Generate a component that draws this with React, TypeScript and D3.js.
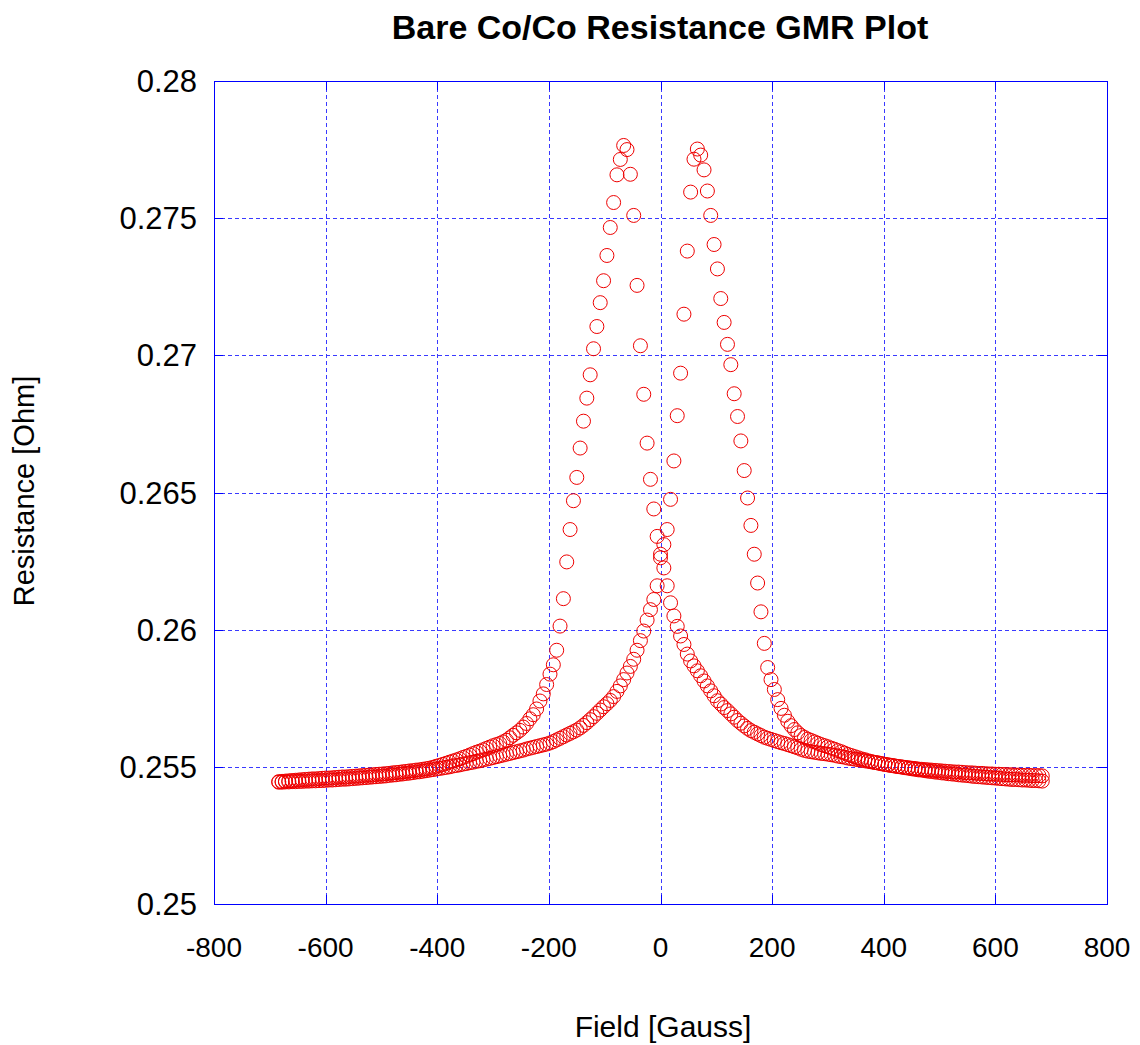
import React from 'react';
import * as d3 from 'd3';

// Applied field, ascending (Gauss)
const fieldGauss = [
  -684, -678, -672, -666, -660, -654, -648, -642, -636, -630, -624, -618,
  -612, -606, -600, -594, -588, -582, -576, -570, -564, -558, -552, -546,
  -540, -534, -528, -522, -516, -510, -504, -498, -492, -486, -480, -474,
  -468, -462, -456, -450, -444, -438, -432, -426, -420, -414, -408, -402,
  -396, -390, -384, -378, -372, -366, -360, -354, -348, -342, -336, -330,
  -324, -318, -312, -306, -300, -294, -288, -282, -276, -270, -264, -258,
  -252, -246, -240, -234, -228, -222, -216, -210, -204, -198, -192, -186,
  -180, -174, -168, -162, -156, -150, -144, -138, -132, -126, -120, -114,
  -108, -102, -96, -90, -84, -78, -72, -66, -60, -54, -48, -42,
  -36, -30, -24, -18, -12, -6,
  0,
  6, 12, 18, 24, 30, 36,
  42, 48, 54, 60, 66, 72, 78, 84, 90, 96, 102, 108,
  114, 120, 126, 132, 138, 144, 150, 156, 162, 168, 174, 180,
  186, 192, 198, 204, 210, 216, 222, 228, 234, 240, 246, 252,
  258, 264, 270, 276, 282, 288, 294, 300, 306, 312, 318, 324,
  330, 336, 342, 348, 354, 360, 366, 372, 378, 384, 390, 396,
  402, 408, 414, 420, 426, 432, 438, 444, 450, 456, 462, 468,
  474, 480, 486, 492, 498, 504, 510, 516, 522, 528, 534, 540,
  546, 552, 558, 564, 570, 576, 582, 588, 594, 600, 606, 612,
  618, 624, 630, 636, 642, 648, 654, 660, 666, 672, 678, 684,
];

// Resistance (Ohm) while sweeping the field from +684 G down to -684 G
const sweepDown = [
  0.25446, 0.25447, 0.25448, 0.25449, 0.2545, 0.25451, 0.25452, 0.25453, 0.25454, 0.25455, 0.25456, 0.25456,
  0.25457, 0.25458, 0.25459, 0.25459, 0.2546, 0.25461, 0.25462, 0.25463, 0.25463, 0.25464, 0.25465, 0.25466,
  0.25467, 0.25468, 0.25469, 0.2547, 0.25471, 0.25472, 0.25473, 0.25474, 0.25475, 0.25476, 0.25478, 0.25479,
  0.2548, 0.25482, 0.25483, 0.25485, 0.25486, 0.25488, 0.25489, 0.25491, 0.25493, 0.25495, 0.25498, 0.25502,
  0.25505, 0.25509, 0.25513, 0.25517, 0.25521, 0.25525, 0.25529, 0.25534, 0.25538, 0.25543, 0.25548, 0.25553,
  0.25557, 0.25562, 0.25567, 0.25572, 0.25577, 0.25581, 0.25585, 0.25591, 0.25597, 0.25606, 0.25615, 0.25624,
  0.25633, 0.25645, 0.25658, 0.25675, 0.2569, 0.25711, 0.2574, 0.25766, 0.258, 0.25838, 0.25872, 0.25925,
  0.26013, 0.26113, 0.26247, 0.26365, 0.2647, 0.26555, 0.26662, 0.2676, 0.26844, 0.26929, 0.27024, 0.27105,
  0.27192, 0.27272, 0.27364, 0.27466, 0.27557, 0.27658, 0.27714, 0.27765, 0.2775, 0.2766, 0.2751, 0.27255,
  0.27035, 0.26858, 0.2668, 0.26548, 0.2644, 0.2634,
  0.26275,
  0.26225, 0.2616, 0.26098, 0.2605, 0.26012, 0.25977,
  0.25946, 0.25911, 0.25886, 0.25868, 0.2585, 0.25832, 0.25813, 0.25795, 0.25777, 0.25759, 0.25741, 0.25729,
  0.25716, 0.25705, 0.25693, 0.25681, 0.25669, 0.25659, 0.25649, 0.2564, 0.25632, 0.25626, 0.2562, 0.25614,
  0.25608, 0.25604, 0.256, 0.25596, 0.25592, 0.25588, 0.25585, 0.25581, 0.25577, 0.25573, 0.25569, 0.25564,
  0.2556, 0.25557, 0.25555, 0.25553, 0.25551, 0.25549, 0.25548, 0.25546, 0.25544, 0.25542, 0.25539, 0.25537,
  0.25535, 0.25532, 0.2553, 0.25528, 0.25526, 0.25524, 0.25522, 0.2552, 0.25518, 0.25516, 0.25514, 0.25512,
  0.25509, 0.25507, 0.25505, 0.25503, 0.25501, 0.25499, 0.25497, 0.25495, 0.25493, 0.25491, 0.25489, 0.25488,
  0.25486, 0.25484, 0.25483, 0.25481, 0.2548, 0.25478, 0.25477, 0.25475, 0.25474, 0.25473, 0.25471, 0.2547,
  0.25469, 0.25468, 0.25466, 0.25465, 0.25464, 0.25463, 0.25462, 0.25461, 0.2546, 0.25459, 0.25458, 0.25457,
  0.25456, 0.25455, 0.25454, 0.25454, 0.25453, 0.25452, 0.25452, 0.25451, 0.2545, 0.2545, 0.25449, 0.25448,
];

// Resistance (Ohm) while sweeping the field from -684 G up to +684 G
const sweepUp = [
  0.25444, 0.25444, 0.25445, 0.25445, 0.25446, 0.25446, 0.25447, 0.25447, 0.25448, 0.25448, 0.25449, 0.25449,
  0.2545, 0.2545, 0.25451, 0.25452, 0.25452, 0.25453, 0.25454, 0.25455, 0.25455, 0.25456, 0.25457, 0.25458,
  0.25459, 0.2546, 0.25461, 0.25462, 0.25463, 0.25464, 0.25465, 0.25466, 0.25467, 0.25469, 0.2547, 0.25471,
  0.25473, 0.25474, 0.25476, 0.25477, 0.25479, 0.25481, 0.25482, 0.25484, 0.25486, 0.25488, 0.2549, 0.25492,
  0.25494, 0.25496, 0.25498, 0.255, 0.25503, 0.25505, 0.25507, 0.2551, 0.25512, 0.25515, 0.25517, 0.2552,
  0.25522, 0.25525, 0.25528, 0.25531, 0.25534, 0.25537, 0.2554, 0.25543, 0.25546, 0.25549, 0.25552, 0.25555,
  0.25558, 0.25561, 0.25565, 0.25568, 0.25571, 0.25574, 0.25577, 0.2558, 0.25583, 0.25587, 0.25592, 0.25598,
  0.25604, 0.2561, 0.25616, 0.25622, 0.25628, 0.25634, 0.25642, 0.25651, 0.25661, 0.25672, 0.25683, 0.25695,
  0.25707, 0.25719, 0.2573, 0.25742, 0.25756, 0.25775, 0.25795, 0.25818, 0.25842, 0.25866, 0.25892, 0.25925,
  0.2596, 0.25995, 0.26035, 0.26073, 0.2611, 0.2616,
  0.26262,
  0.2631, 0.26365, 0.26475, 0.26615, 0.2678, 0.26935,
  0.2715, 0.2738, 0.27595, 0.27715, 0.27752, 0.2773, 0.27676, 0.27599, 0.2751, 0.27404, 0.27315, 0.27207,
  0.2712, 0.2704, 0.26966, 0.2686, 0.26777, 0.26688, 0.2658, 0.2648, 0.2638, 0.26275, 0.2617, 0.26065,
  0.2595, 0.25862, 0.25818, 0.25782, 0.25745, 0.25713, 0.25688, 0.25666, 0.2565, 0.25636, 0.25624, 0.25614,
  0.25607, 0.25601, 0.25596, 0.25591, 0.25586, 0.25581, 0.25577, 0.25573, 0.25568, 0.25564, 0.25559, 0.25555,
  0.2555, 0.25545, 0.25541, 0.25537, 0.25533, 0.25529, 0.25526, 0.25522, 0.25519, 0.25516, 0.25514, 0.25511,
  0.25509, 0.25507, 0.25505, 0.25503, 0.25501, 0.255, 0.25498, 0.25497, 0.25495, 0.25494, 0.25492, 0.25491,
  0.2549, 0.25489, 0.25488, 0.25487, 0.25486, 0.25485, 0.25484, 0.25483, 0.25482, 0.25481, 0.25481, 0.2548,
  0.25479, 0.25478, 0.25478, 0.25477, 0.25476, 0.25476, 0.25475, 0.25474, 0.25474, 0.25473, 0.25473, 0.25472,
  0.25472, 0.25471, 0.25471, 0.2547, 0.2547, 0.25469, 0.25469, 0.25469, 0.25468, 0.25468, 0.25468, 0.25467,
];

const xTickValues = [-800, -600, -400, -200, 0, 200, 400, 600, 800];
const xTickLabels = ['-800', '-600', '-400', '-200', '0', '200', '400', '600', '800'];
const yTickValues = [0.25, 0.255, 0.26, 0.265, 0.27, 0.275, 0.28];
const yTickLabels = ['0.25', '0.255', '0.26', '0.265', '0.27', '0.275', '0.28'];

const WIDTH = 1140;
const HEIGHT = 1045;
const PLOT = { left: 214, right: 1107, top: 81, bottom: 904 };
const FONT = '"Liberation Sans", Arial, Helvetica, sans-serif';
const GRID_BLUE = '#3a3aff';
const BORDER_BLUE = '#0000ff';
const POINT_RED = '#ee0000';

export default function App() {
  const x = d3.scaleLinear().domain([-800, 800]).range([PLOT.left, PLOT.right]);
  const y = d3.scaleLinear().domain([0.25, 0.28]).range([PLOT.bottom, PLOT.top]);

  const n = Math.min(fieldGauss.length, sweepDown.length, sweepUp.length);
  const points: { f: number; r: number }[] = [];
  for (let i = 0; i < n; i++) points.push({ f: fieldGauss[i], r: sweepDown[i] });
  for (let i = 0; i < n; i++) points.push({ f: fieldGauss[i], r: sweepUp[i] });

  const tickLen = 9;

  return (
    <svg
      width={WIDTH}
      height={HEIGHT}
      viewBox={`0 0 ${WIDTH} ${HEIGHT}`}
      style={{ position: 'absolute', left: 0, top: 0, background: '#fff' }}
    >
      <rect x={0} y={0} width={WIDTH} height={HEIGHT} fill="#fff" />

      {/* grid */}
      <g stroke={GRID_BLUE} strokeWidth={1} strokeDasharray="4,3" shapeRendering="crispEdges">
        {xTickValues.slice(1, -1).map((v) => (
          <line key={`gx${v}`} x1={Math.round(x(v)) + 0.5} x2={Math.round(x(v)) + 0.5} y1={PLOT.top} y2={PLOT.bottom} />
        ))}
        {yTickValues.slice(1, -1).map((v) => (
          <line key={`gy${v}`} x1={PLOT.left} x2={PLOT.right} y1={Math.round(y(v)) + 0.5} y2={Math.round(y(v)) + 0.5} />
        ))}
      </g>

      {/* ticks on all four sides */}
      <g stroke={BORDER_BLUE} strokeWidth={1} shapeRendering="crispEdges">
        {xTickValues.map((v) => {
          const px = Math.round(x(v)) + 0.5;
          return (
            <g key={`tx${v}`}>
              <line x1={px} x2={px} y1={PLOT.bottom} y2={PLOT.bottom - tickLen} />
              <line x1={px} x2={px} y1={PLOT.top} y2={PLOT.top + tickLen} />
            </g>
          );
        })}
        {yTickValues.map((v) => {
          const py = Math.round(y(v)) + 0.5;
          return (
            <g key={`ty${v}`}>
              <line x1={PLOT.left} x2={PLOT.left + tickLen} y1={py} y2={py} />
              <line x1={PLOT.right} x2={PLOT.right - tickLen} y1={py} y2={py} />
            </g>
          );
        })}
      </g>

      {/* data points */}
      <g fill="none" stroke={POINT_RED} strokeWidth={1}>
        {points.map((p, i) => (
          <circle key={i} cx={x(p.f)} cy={y(p.r)} r={7} />
        ))}
      </g>

      {/* border */}
      <rect
        x={PLOT.left + 0.5}
        y={PLOT.top + 0.5}
        width={PLOT.right - PLOT.left}
        height={PLOT.bottom - PLOT.top}
        fill="none"
        stroke={BORDER_BLUE}
        strokeWidth={1}
        shapeRendering="crispEdges"
      />

      {/* tick labels */}
      <g fontFamily={FONT} fill="#000">
        {xTickValues.map((v, i) => (
          <text key={`lx${v}`} x={x(v)} y={957} textAnchor="middle" fontSize={28}>
            {xTickLabels[i]}
          </text>
        ))}
        {yTickValues.map((v, i) => (
          <text key={`ly${v}`} x={197} y={y(v)} dy="0.36em" textAnchor="end" fontSize={31}>
            {yTickLabels[i]}
          </text>
        ))}
      </g>

      {/* titles */}
      <text x={660} y={39} textAnchor="middle" fontFamily={FONT} fontSize={34} fontWeight="bold" fill="#000">
        Bare Co/Co Resistance GMR Plot
      </text>
      <text x={663} y={1037} textAnchor="middle" fontFamily={FONT} fontSize={30} fill="#000">
        Field [Gauss]
      </text>
      <text
        transform="translate(34, 491) rotate(-90)"
        textAnchor="middle"
        fontFamily={FONT}
        fontSize={29}
        fill="#000"
      >
        Resistance [Ohm]
      </text>
    </svg>
  );
}
